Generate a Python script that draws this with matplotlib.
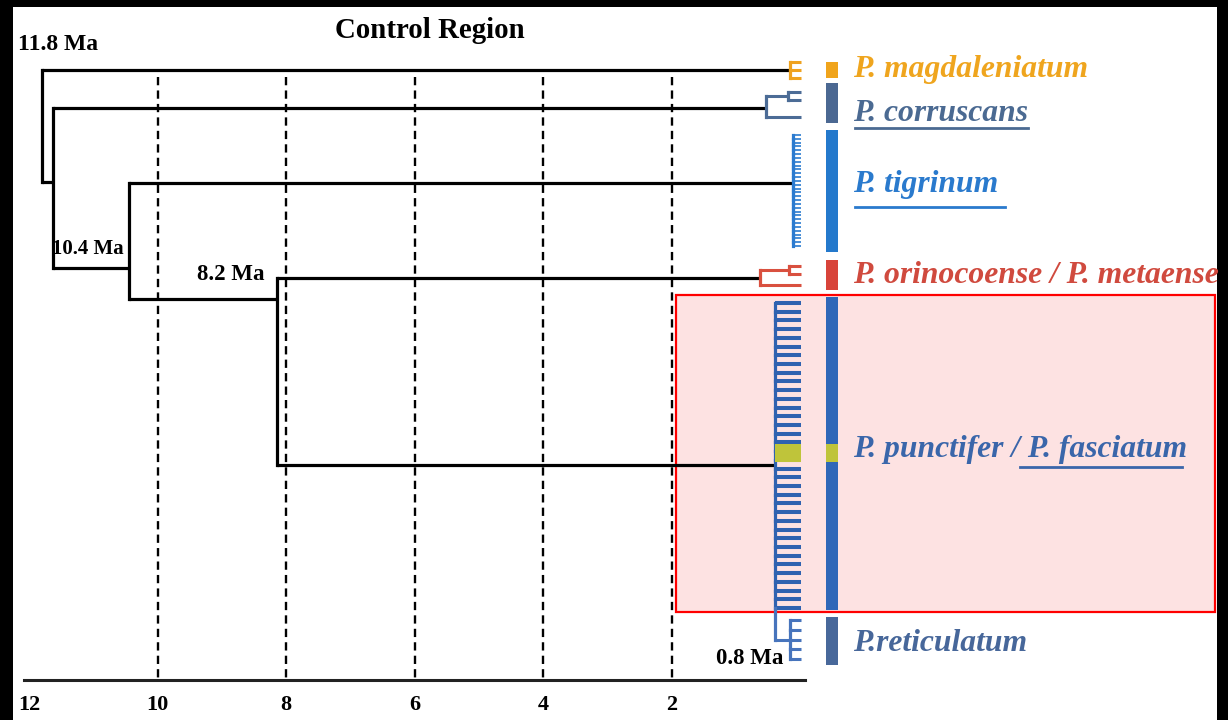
import numpy as np
import matplotlib.pyplot as plt
from matplotlib.patches import Rectangle

plt.rcParams['font.family'] = ['Liberation Serif', 'DejaVu Serif']

# 时间轴 (Ma)
tick_ma = [12, 10, 8, 6, 4, 2]
grid_ma = [10, 8, 6, 4, 2]

# 主干节点: 年龄 (Ma) 与挂接位置
node_age = {'root': 11.8, 'n1': 11.62, 'n2': 10.45, 'n3': 8.15}
node_y = {'n1': 182, 'n2': 268, 'n3': 299}
node_children = {'root': ['magd', 'n1'], 'n1': ['corr', 'n2'],
                 'n2': ['tig', 'n3'], 'n3': ['orin', 'punct']}
stem_y = {'magd': 70, 'corr': 108, 'tig': 183, 'orin': 278, 'punct': 465}

# 各类群内部的小树 (冠群年龄, 子节点); 叶子 = 行位置
tig_tips = list(np.linspace(135, 246, 30))
punct_tips = list(np.linspace(303, 608, 36))
retic_tips = [620, 630, 640, 649, 659]
clade_tree = {
    'magd': (0.165, [62, 70, 78]),
    'corr': (0.54, [(0.2, [92, 100]), 117]),
    'tig': (0.12, tig_tips),
    'orin': (0.63, [(0.18, [266, 274]), 285]),
    'punct': (0.40, punct_tips + [(0.165, retic_tips, '#4774BC')]),
}
clade_color = {'magd': '#EFA21F', 'corr': '#4C6C96', 'tig': '#2B7BD0',
               'orin': '#D9503F', 'punct': '#2F62B0'}
clade_lw = {'magd': 2.2, 'corr': 2.2, 'tig': 1.2, 'orin': 2.2, 'punct': 2.9}

# 右侧色条
bar_top = [62, 83, 130, 260, 297, 617]
bar_bottom = [78, 123, 252, 290, 610, 665]
bar_colors = ['#F0A41C', '#4B6892', '#2479CC', '#D8443A', '#2F67B8', '#48689A']
fasciatum_band = (444, 462)

# 物种标签
species = ['P. magdaleniatum', 'P. corruscans', 'P. tigrinum',
           'P. orinocoense / P. metaense', 'P. punctifer / P. fasciatum', 'P.reticulatum']
species_y = [77, 121, 192, 283, 457, 651]
species_colors = ['#EFA51E', '#4B6A92', '#2A7ACD', '#D04A3E', '#3A66AA', '#47679A']


def draw_clade(ax, node, color, lw):
    age, kids = node[0], node[1]
    col = node[2] if len(node) > 2 else color
    ys, cols = [], []
    for k in kids:
        if isinstance(k, tuple):
            ky = draw_clade(ax, k, col, lw if lw < 2.5 else 2.2)
            kc = k[2] if len(k) > 2 else col
            kage = k[0]
        else:
            ky, kc, kage = k, col, 0.0
        ax.plot([age, kage], [ky, ky], color=kc, lw=lw if kage == 0 else 2.2,
                solid_capstyle='butt', zorder=3)
        ys.append(ky)
        cols.append(kc)
    for i in range(1, len(ys)):
        ax.plot([age, age], [ys[i - 1], ys[i]], color=cols[i], lw=2.3,
                solid_capstyle='projecting', zorder=3)
    return (ys[0] + ys[-1]) / 2


fig = plt.figure(figsize=(12.28, 7.2), dpi=100)
fig.patch.set_facecolor('black')
ax = fig.add_axes([13 / 1228, 0, 1204 / 1228, 713 / 720])
ax.set_facecolor('white')
ax.set_xlim(12.249, -6.476)
ax.set_ylim(720, 7)

# 高亮框
ax.add_patch(Rectangle((-6.445, 295), 8.385, 317, facecolor='#FDE2E2',
                       edgecolor='#FF0000', lw=1.6, zorder=0.5))

# 虚线
ax.vlines(grid_ma, 77, 680, colors='black', lw=1.7, linestyles=(0, (3.5, 2.2)), zorder=1)

# 主干
for parent, kids in node_children.items():
    pa = node_age[parent]
    ys = []
    for c in kids:
        if c in node_age:
            y, ca = node_y[c], node_age[c]
        else:
            y, ca = stem_y[c], clade_tree[c][0]
        ax.plot([pa, ca], [y, y], color='black', lw=2.3, solid_capstyle='butt', zorder=2)
        ys.append(y)
    ax.plot([pa, pa], [min(ys), max(ys)], color='black', lw=2.3,
            solid_capstyle='projecting', zorder=2)

# 类群小树
for c, tree in clade_tree.items():
    draw_clade(ax, tree, clade_color[c], clade_lw[c])

# fasciatum 高亮
ax.barh((fasciatum_band[0] + fasciatum_band[1]) / 2, 0.40, left=0,
        height=fasciatum_band[1] - fasciatum_band[0], color='#BFC43A', zorder=4)

# 色条
for t, b, c in zip(bar_top, bar_bottom, bar_colors):
    ax.bar(-0.484, b - t, bottom=t, width=0.187, color=c, zorder=3)
ax.bar(-0.484, fasciatum_band[1] - fasciatum_band[0], bottom=fasciatum_band[0],
       width=0.187, color='#BFC43A', zorder=4)

# 物种名
for s, y, c in zip(species, species_y, species_colors):
    ax.text(-0.81, y, s, color=c, fontsize=22.8, fontweight='bold', style='italic',
            va='baseline', ha='left', zorder=5)
ax.plot([-0.843, -3.535], [128, 128], color='#4B6A92', lw=2, zorder=5)
ax.plot([-0.843, -3.18], [207, 207], color='#2A7ACD', lw=2, zorder=5)
ax.plot([-3.41, -5.93], [467, 467], color='#3A66AA', lw=2, zorder=5)

# 标题与节点年龄
ax.text(5.77, 31, 'Control Region', fontsize=20.8, fontweight='bold', ha='center', va='center')
ax.text(11.55, 45, '11.8 Ma', fontsize=17, fontweight='bold', ha='center', va='center')
ax.text(11.08, 249, '10.4 Ma', fontsize=15, fontweight='bold', ha='center', va='center')
ax.text(8.87, 275, '8.2 Ma', fontsize=16.5, fontweight='bold', ha='center', va='center')
ax.text(0.79, 658, '0.8 Ma', fontsize=16.5, fontweight='bold', ha='center', va='center')

# 时间轴
for s in ['top', 'left', 'right']:
    ax.spines[s].set_visible(False)
ax.spines['bottom'].set_position(('data', 680))
ax.spines['bottom'].set_bounds(12.08, -0.07)
ax.spines['bottom'].set_linewidth(2.2)
ax.spines['bottom'].set_color('#222222')
ax.set_xticks(tick_ma)
ax.set_xticklabels([str(t) for t in tick_ma], fontsize=16, fontweight='bold')
ax.tick_params(axis='x', length=0, pad=11)
ax.set_yticks([])

fig.savefig('out.png', dpi=100, facecolor=fig.get_facecolor())
